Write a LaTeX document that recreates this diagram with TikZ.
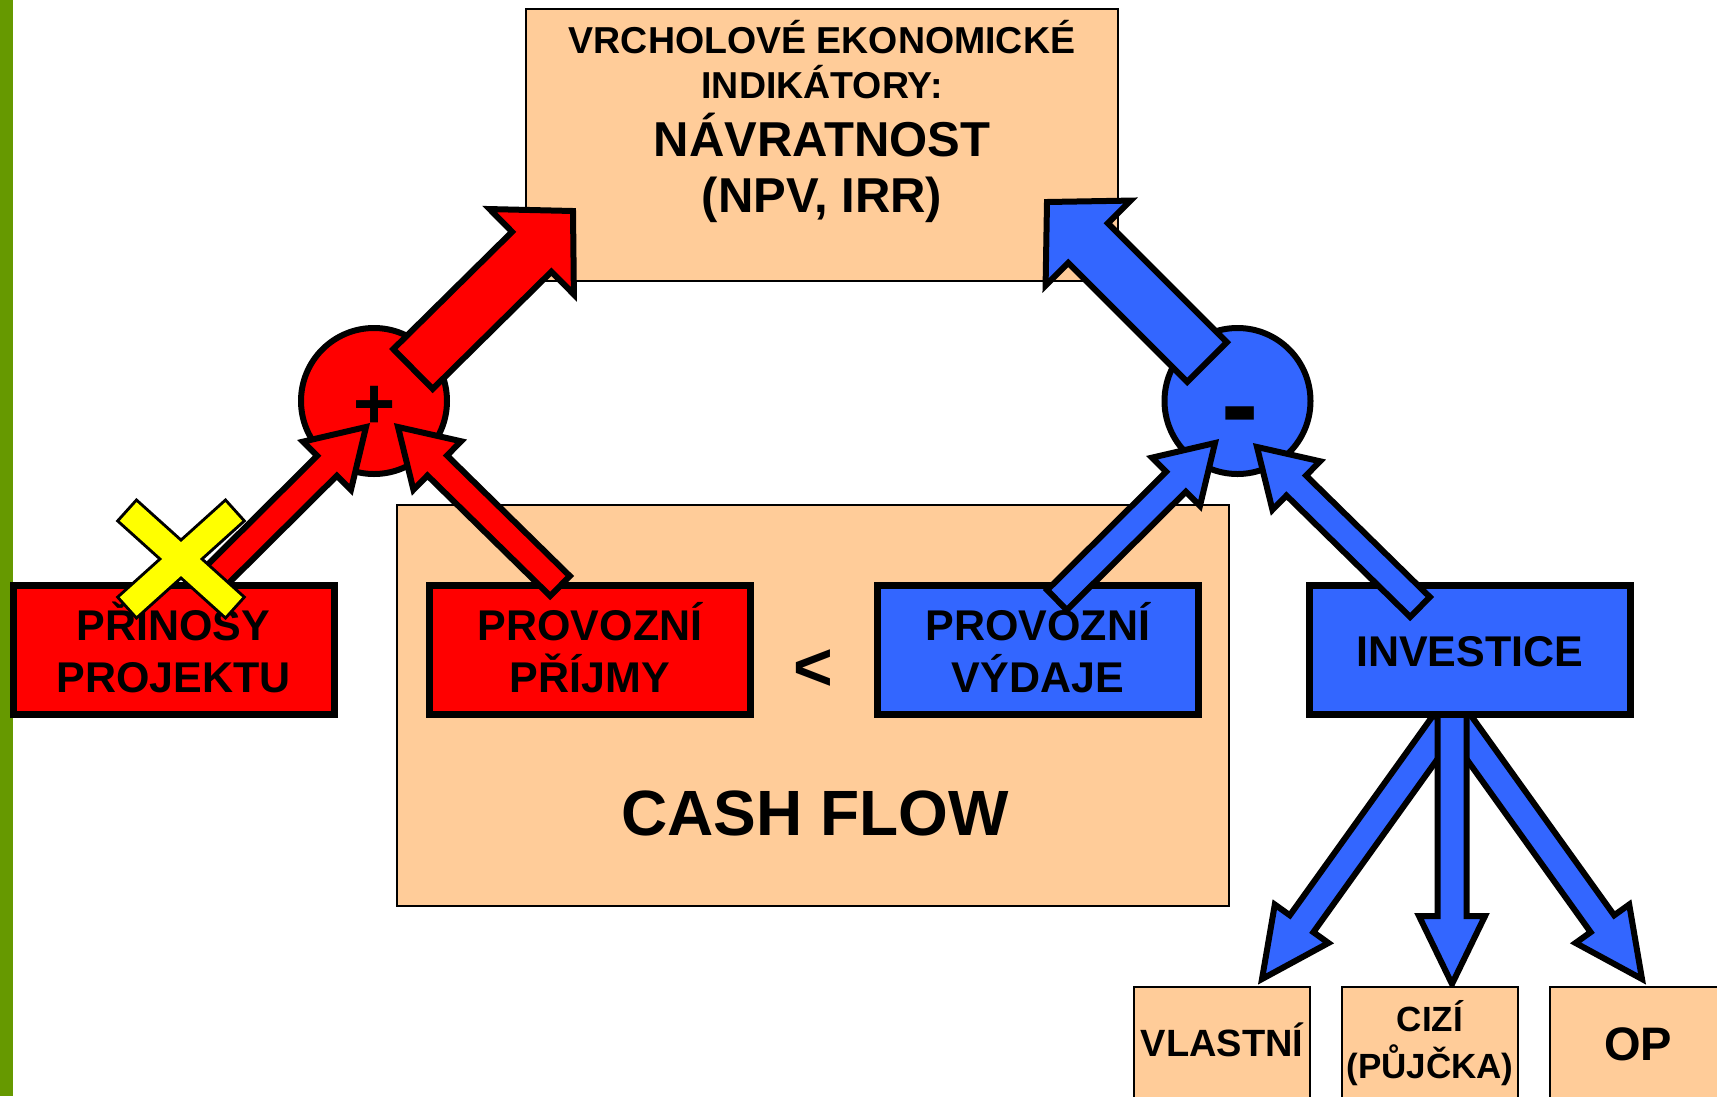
\documentclass[tikz,border=0pt]{standalone}
\usepackage{fontspec}
\setmainfont{Liberation Sans}
\usetikzlibrary{calc}
\definecolor{peach}{HTML}{FFCC99}
\definecolor{pred}{HTML}{FF0000}
\definecolor{pblue}{HTML}{3366FF}
\definecolor{pyellow}{HTML}{FFFF00}
\definecolor{pgreen}{HTML}{669900}
\newcommand{\myfs}[1]{\fontsize{#1}{#1}\selectfont\bfseries}
% #1 style, #2 tail, #3 tip, #4 half shaft, #5 half head, #6 head length
\newcommand{\blockarrow}[6]{%
  \path ($(#3)!#6!(#2)$) coordinate (ba-hb);
  \draw[#1] ($(#2)!#4!90:(#3)$) -- ($(ba-hb)!#4!-90:(#2)$) -- ($(ba-hb)!#5!-90:(#2)$)
    -- (#3) -- ($(ba-hb)!#5!90:(#2)$) -- ($(ba-hb)!#4!90:(#2)$) -- ($(#2)!#4!-90:(#3)$) -- cycle;
}
\tikzset{
  thinbox/.style={draw=black, line width=1.5pt, fill=peach, rectangle, inner sep=0pt},
  colbox/.style={draw=black, line width=7pt, rectangle, inner sep=0pt, minimum width=321pt, minimum height=129pt},
  redbox/.style={colbox, fill=pred},
  bluebox/.style={colbox, fill=pblue},
  circ/.style={circle, draw=black, line width=6pt, minimum size=146pt, inner sep=0pt},
  barrow/.style={draw=black, line width=6pt, line join=miter, miter limit=20},
  lbl/.style={anchor=base, inner sep=0pt, text=black},
}
\begin{document}
\begin{tikzpicture}[x=1pt,y=-1pt]
\useasboundingbox (0,0) rectangle (1717,1096);
\clip (0,0) rectangle (1717,1096);
\fill[white] (0,0) rectangle (1717,1096);
\fill[pgreen] (0,0) rectangle (13,1096);

% peach boxes
\node[thinbox, minimum width=592pt, minimum height=272pt] (top) at (822,145) {};
\node[thinbox, minimum width=832pt, minimum height=401pt] (cf) at (813,705.5) {};

% circles
\node[circ, fill=pred] (plus) at (374,401) {};
\node[circ, fill=pblue] (minus) at (1237.5,401) {};

% top arrows
\coordinate (rT) at (413,369); \coordinate (rH) at (573,211);
\blockarrow{barrow,fill=pred}{rT}{rH}{28pt}{60pt}{58pt}
\coordinate (bT) at (1207,362); \coordinate (bH) at (1047,202);
\blockarrow{barrow,fill=pblue}{bT}{bH}{28pt}{60pt}{58pt}

% arrows below INVESTICE
\coordinate (dlT) at (1462,700); \coordinate (dlH) at (1262,979);
\coordinate (drT) at (1442,700); \coordinate (drH) at (1642,979);
\coordinate (dmT) at (1452,700); \coordinate (dmH) at (1452,984);
\blockarrow{barrow,fill=pblue}{dlT}{dlH}{14.5pt}{33pt}{68pt}
\blockarrow{barrow,fill=pblue}{drT}{drH}{14.5pt}{33pt}{68pt}
\blockarrow{barrow,fill=pblue}{dmT}{dmH}{14.5pt}{33pt}{68pt}

% coloured boxes
\node[redbox] (prin) at (173.5,649.5) {};
\node[redbox] (prij) at (590,649.5) {};
\node[bluebox] (vyd) at (1037.75,649.5) {};
\node[bluebox] (inv) at (1469.75,649.5) {};

% arrows into circles
\coordinate (a1T) at (204,588); \coordinate (a1H) at (366,427);
\coordinate (a2T) at (560,586); \coordinate (a2H) at (398,427);
\coordinate (a3T) at (1057,600); \coordinate (a3H) at (1215,443);
\coordinate (a4T) at (1420,607); \coordinate (a4H) at (1257,447);
\blockarrow{barrow,fill=pred}{a1T}{a1H}{14pt}{34pt}{55pt}
\blockarrow{barrow,fill=pred}{a2T}{a2H}{14pt}{34pt}{55pt}
\blockarrow{barrow,fill=pblue}{a3T}{a3H}{14pt}{34pt}{55pt}
\blockarrow{barrow,fill=pblue}{a4T}{a4H}{14pt}{34pt}{55pt}

% bottom boxes
\node[thinbox, minimum width=176pt, minimum height=140pt, anchor=north] (vl) at (1222,986) {};
\node[thinbox, minimum width=176pt, minimum height=140pt, anchor=north] (ci) at (1430,986) {};
\node[thinbox, minimum width=176pt, minimum height=140pt, anchor=north] (op) at (1638,986) {};

% texts
\node[lbl, font={\myfs{37.5}}] (t1) at (822,53) {VRCHOLOVÉ EKONOMICKÉ};
\node[lbl, font={\myfs{37.5}}] (t2) at (822,98.5) {INDIKÁTORY:};
\node[lbl, font={\myfs{49}}] (t3) at (822,156) {NÁVRATNOST};
\node[lbl, font={\myfs{49}}] (t4) at (822,212) {(NPV, IRR)};
\node[lbl, font={\myfs{72}}] (tplus) at (374.3,428) {+};
\node[lbl, font={\myfs{112}}] (tminus) at (1240.5,442.5) {-};
\node[lbl, font={\myfs{43}}] (p1) at (173.5,640) {PŘÍNOSY};
\node[lbl, font={\myfs{43}}] (p2) at (173.5,692) {PROJEKTU};
\node[lbl, font={\myfs{43}}] (q1) at (590,640) {PROVOZNÍ};
\node[lbl, font={\myfs{43}}] (q2) at (590,692) {PŘÍJMY};
\node[lbl, font={\myfs{43}}] (v1) at (1037.75,640) {PROVOZNÍ};
\node[lbl, font={\myfs{43}}] (v2) at (1037.75,692) {VÝDAJE};
\node[lbl, font={\myfs{43}}] (i1) at (1469.75,666) {INVESTICE};
\node[lbl, font={\myfs{68}}] (lt) at (813.6,690) {<};
\node[lbl, font={\myfs{64}}] (cash) at (815,835) {CASH FLOW};
\node[lbl, font={\myfs{38}}] (vlt) at (1222,1056.7) {VLASTNÍ};
\node[lbl, font={\myfs{35}}] (ci1) at (1430,1031.7) {CIZÍ};
\node[lbl, font={\myfs{35}}] (ci2) at (1430,1078) {(PŮJČKA)};
\node[lbl, font={\myfs{47}}] (opt) at (1638,1060) {OP};

% yellow cross
\begin{scope}[shift={(181,559)}]
  \draw[line width=6pt, line join=miter, rotate=42] (-71,-12.5) -- (71,-12.5) -- (71,12.5) -- (-71,12.5) -- cycle;
  \draw[line width=6pt, line join=miter, rotate=-42] (-71,-12.5) -- (71,-12.5) -- (71,12.5) -- (-71,12.5) -- cycle;
  \fill[pyellow, rotate=42] (-71,-12.5) -- (71,-12.5) -- (71,12.5) -- (-71,12.5) -- cycle;
  \fill[pyellow, rotate=-42] (-71,-12.5) -- (71,-12.5) -- (71,12.5) -- (-71,12.5) -- cycle;
\end{scope}
\end{tikzpicture}
\end{document}
